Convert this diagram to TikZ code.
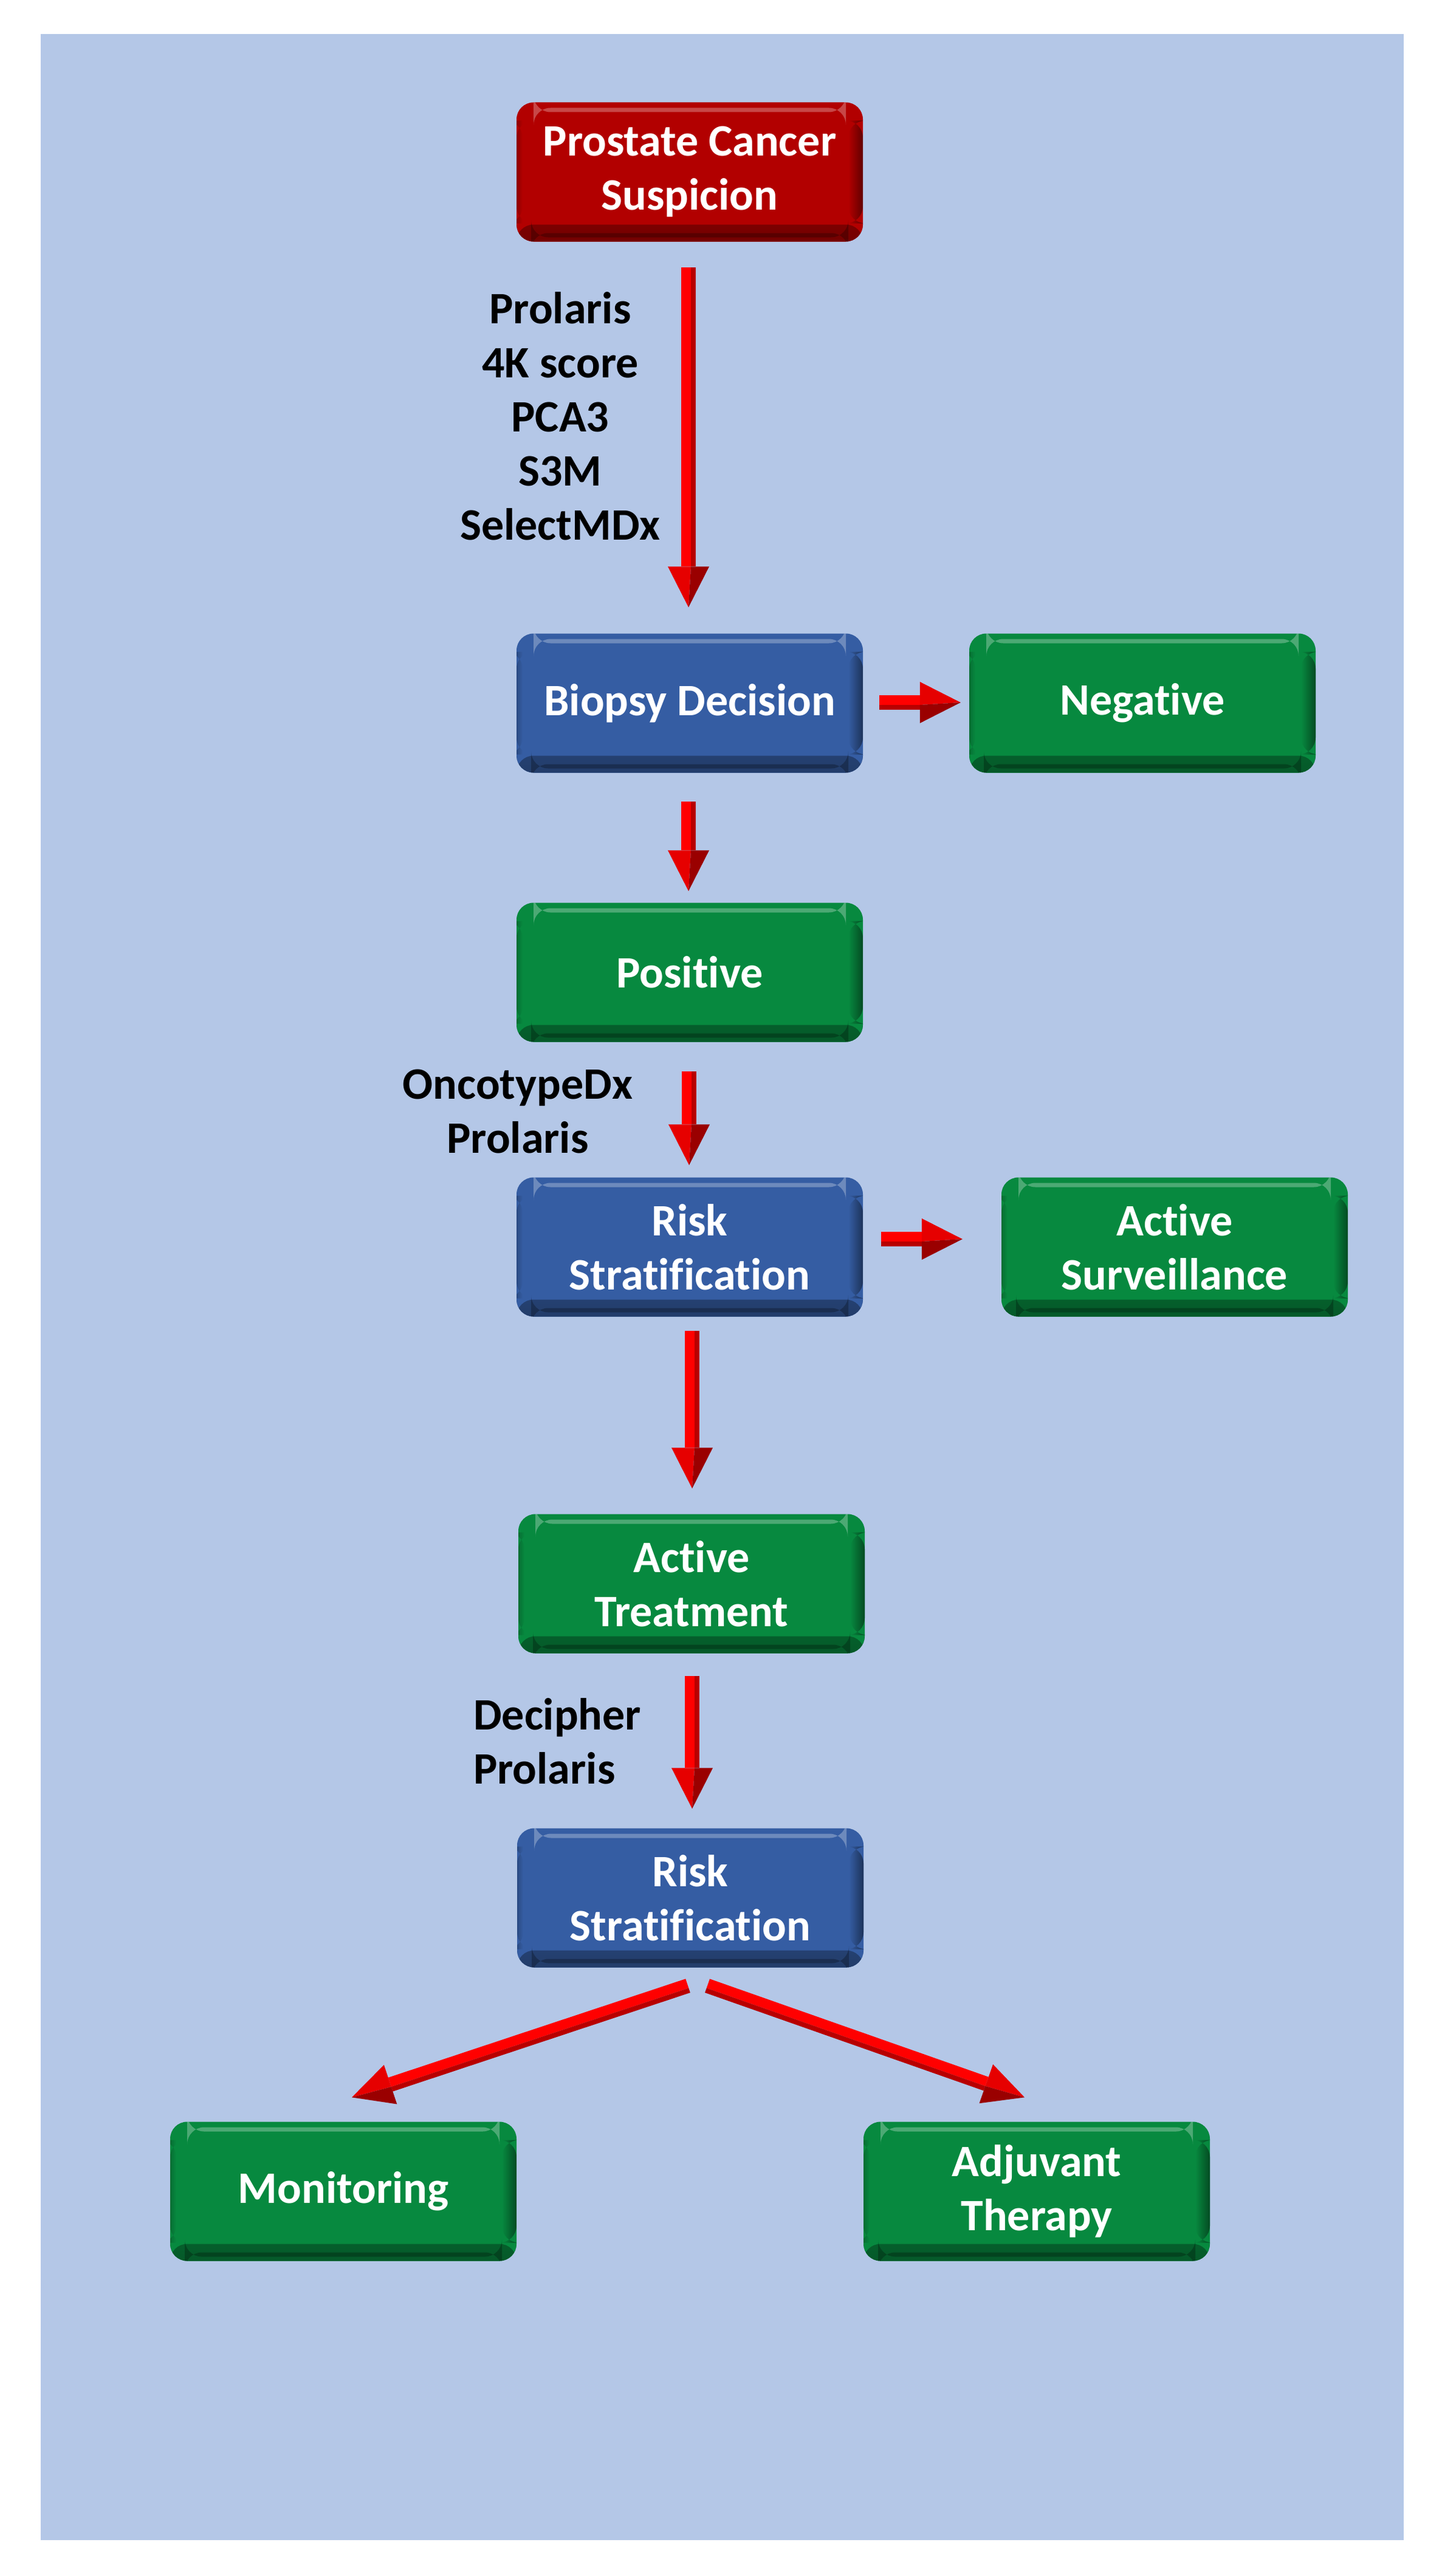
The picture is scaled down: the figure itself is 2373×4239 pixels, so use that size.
\documentclass[tikz,border=0pt]{standalone}
\usepackage{fontspec}
\setmainfont{Carlito}[Ligatures=NoCommon]
\usetikzlibrary{calc}
\definecolor{bgblue}{HTML}{B4C7E7}
\definecolor{boxred}{HTML}{B20000}
\definecolor{boxblue}{HTML}{355DA3}
\definecolor{boxgreen}{HTML}{07893F}
\definecolor{arrlight}{HTML}{FF0000}
\definecolor{arrmid}{HTML}{E60000}
\definecolor{arrdark}{HTML}{B80000}
\definecolor{arrdeep}{HTML}{9A0000}
\tikzset{
  flowbox/.style={rounded corners=28pt, minimum width=570pt, minimum height=229pt,
    inner sep=0pt, align=center, text=white, fill=#1,
    font=\fontsize{74}{89}\selectfont\bfseries,
    path picture={
      \shade[top color=#1, bottom color=#1!65!black]
        ([yshift=28pt]path picture bounding box.south west) rectangle (path picture bounding box.south east);
      \shade[left color=#1!80!black, right color=#1]
        ([yshift=-30pt]path picture bounding box.north west) rectangle ([xshift=10pt,yshift=30pt]path picture bounding box.south west);
      \shade[left color=#1, right color=#1!55!black]
        ([xshift=-24pt,yshift=-30pt]path picture bounding box.north east) rectangle ([yshift=30pt]path picture bounding box.south east);
      \fill[white, opacity=0.28]
        ([xshift=28pt,yshift=-9pt]path picture bounding box.north west) rectangle ([xshift=-28pt,yshift=-16pt]path picture bounding box.north east);
      \fill[black, opacity=0.25]
        ([xshift=24pt,yshift=7pt]path picture bounding box.south west) rectangle ([xshift=-24pt,yshift=14pt]path picture bounding box.south east);
    }},
  lbl/.style={inner sep=0pt, align=center, text=black,
    font=\fontsize{74}{89}\selectfont\bfseries},
}
% block arrow: #1 start, #2 tip, #3 light-side angle, #4 dark-side angle
\newcommand\blockarrow[4]{%
  \coordinate (bh) at ($(#2)!67pt!(#1)$);
  \fill[arrlight] ($(#1)!12pt!#3:(#2)$) -- ($(bh)!12pt!#3:(#2)$) -- ($(bh)!4pt!#4:(#2)$) -- ($(#1)!4pt!#4:(#2)$) -- cycle;
  \fill[arrdark] ($(#1)!4pt!#4:(#2)$) -- ($(bh)!4pt!#4:(#2)$) -- ($(bh)!12pt!#4:(#2)$) -- ($(#1)!12pt!#4:(#2)$) -- cycle;
  \fill[arrmid] ($(bh)!34pt!#3:(#2)$) -- (#2) -- ($(bh)!4pt!#4:(#2)$) -- cycle;
  \fill[arrdeep] ($(bh)!4pt!#4:(#2)$) -- (#2) -- ($(bh)!34pt!#4:(#2)$) -- cycle;
}
\begin{document}
\begin{tikzpicture}[x=1pt,y=-1pt]
\useasboundingbox (0,0) rectangle (2373,4239);
\fill[white] (0,0) rectangle (2373,4239);
\fill[bgblue] (67,56) rectangle (2310,4180);

\node[flowbox=boxred] (pc) at (1135,283) {Prostate Cancer\\Suspicion};
\node[flowbox=boxblue] (bd) at (1135,1157) {Biopsy Decision};
\node[flowbox=boxgreen] (neg) at (1880,1157) {Negative};
\node[flowbox=boxgreen] (pos) at (1135,1600) {Positive};
\node[flowbox=boxblue] (rs1) at (1135,2052) {Risk\\Stratification};
\node[flowbox=boxgreen] (as) at (1933,2052) {Active\\Surveillance};
\node[flowbox=boxgreen] (at) at (1138,2606) {Active\\Treatment};
\node[flowbox=boxblue] (rs2) at (1136,3123) {Risk\\Stratification};
\node[flowbox=boxgreen] (mon) at (565,3606) {Monitoring};
\node[flowbox=boxgreen] (adj) at (1706,3606) {Adjuvant\\Therapy};

\node[lbl] (l1) at (922,685) {Prolaris\\4K score\\PCA3\\S3M\\SelectMDx};
\node[lbl] (l2) at (852,1829) {OncotypeDx\\Prolaris};
\node[lbl, align=left, anchor=west] (l3) at (779,2865) {Decipher\\Prolaris};

\coordinate (a1s) at ($(pc.south)+(-2,42)$);
\coordinate (a1t) at ($(bd.north)+(-2,-43)$);
\coordinate (a2s) at ($(bd.south)+(-2,47)$);
\coordinate (a2t) at ($(pos.north)+(-2,-19)$);
\coordinate (a3s) at ($(pos.south)+(-1,48)$);
\coordinate (a3t) at ($(rs1.north)+(-1,-20)$);
\coordinate (a4s) at ($(rs1.south)+(4,23)$);
\coordinate (a4t) at ($(at.north)+(1,-42)$);
\coordinate (a5s) at ($(at.south)+(1,37)$);
\coordinate (a5t) at ($(rs2.north)+(3,-32)$);
\coordinate (h1s) at ($(bd.east)+(27,-1)$);
\coordinate (h1t) at ($(neg.west)+(-14,-1)$);
\coordinate (h2s) at ($(rs1.east)+(30,-13)$);
\coordinate (h2t) at ($(as.west)+(-64,-13)$);
\coordinate (d1s) at ($(rs2.south)+(-4,30)$);
\coordinate (d1t) at ($(mon.north)+(14,-40)$);
\coordinate (d2s) at ($(rs2.south)+(28,30)$);
\coordinate (d2t) at ($(adj.north)+(-20,-40)$);

\blockarrow{a1s}{a1t}{-90}{90}
\blockarrow{a2s}{a2t}{-90}{90}
\blockarrow{a3s}{a3t}{-90}{90}
\blockarrow{a4s}{a4t}{-90}{90}
\blockarrow{a5s}{a5t}{-90}{90}
\blockarrow{h1s}{h1t}{90}{-90}
\blockarrow{h2s}{h2t}{90}{-90}
\blockarrow{d1s}{d1t}{-90}{90}
\blockarrow{d2s}{d2t}{90}{-90}
\end{tikzpicture}
\end{document}
